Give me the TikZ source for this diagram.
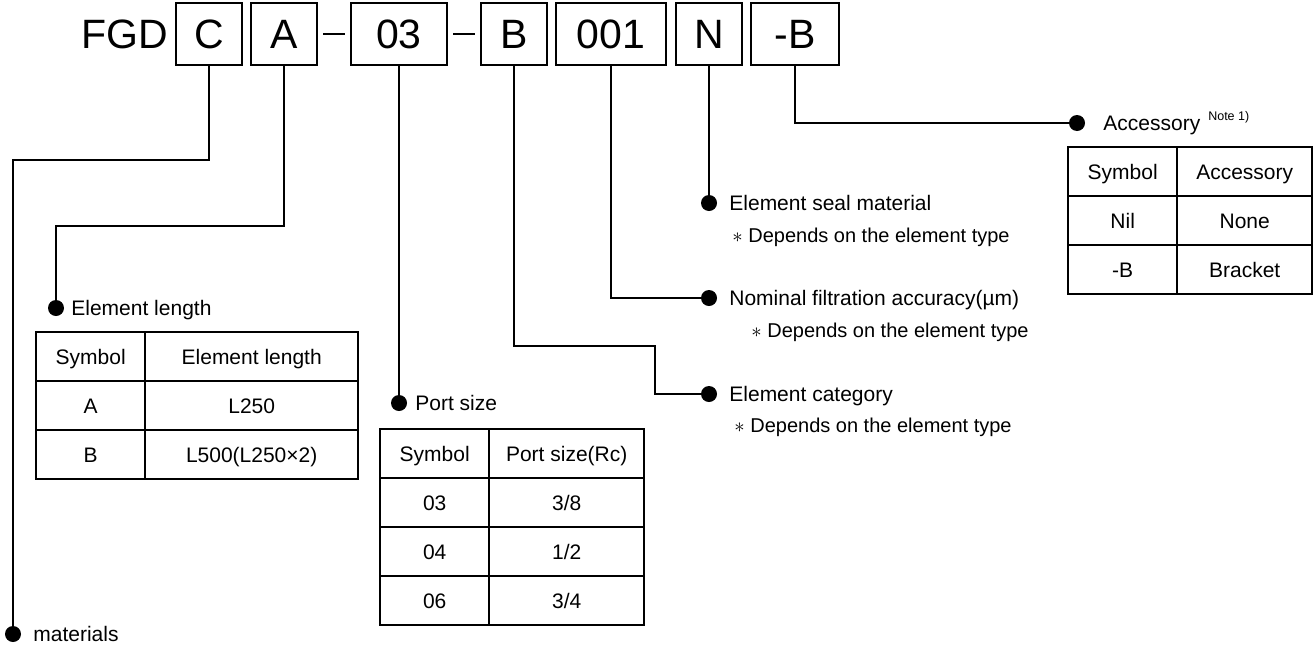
\documentclass[tikz,border=0pt]{standalone}
\usepackage{fontspec}
\setmainfont{Liberation Sans}
\usetikzlibrary{positioning,matrix}

\tikzset{
  codebox/.style={draw, line width=1.8pt, minimum height=62pt, inner sep=0pt, outer sep=0pt,
    font=\fontsize{41}{41}\selectfont},
  lead/.style={line width=1.7pt},
  dot/.style={circle, fill, inner sep=0pt, minimum size=16pt},
  lbl/.style={anchor=west, inner sep=0pt, text height=15pt, text depth=0pt,
    font=\fontsize{21}{21}\selectfont},
  note/.style={anchor=west, inner sep=0pt, text height=14pt, text depth=0pt,
    font=\fontsize{20}{20}\selectfont},
  cell/.style={draw, line width=2.4pt, minimum height=49pt, inner sep=0pt, outer sep=0pt,
    anchor=center, text height=15pt, text depth=0pt, font=\fontsize{21}{21}\selectfont},
  codetable/.style={matrix of nodes, anchor=north west, inner sep=0pt, outer sep=0pt,
    column sep=-2.4pt, row sep=-2.4pt, nodes={cell},
    column 1/.style={nodes={minimum width=109pt}}}
}

\begin{document}
\begin{tikzpicture}[x=1pt, y=-1pt]
\useasboundingbox (0,0) rectangle (1313,646);

% model code
\node[codebox, minimum width=66pt] (c) at (209,34) {C};
\node[codebox, minimum width=66pt, right=9pt of c] (a) {A};
\node[codebox, minimum width=96pt, right=34pt of a] (port) {03};
\node[codebox, minimum width=66pt, right=34pt of port] (cat) {B};
\node[codebox, minimum width=110pt, right=9pt of cat] (filt) {001};
\node[codebox, minimum width=66pt, right=10pt of filt] (seal) {N};
\node[codebox, minimum width=88pt, right=9pt of seal] (acc) {-B};
\node[anchor=base east, inner sep=0pt, font=\fontsize{41}{41}\selectfont] (fgd) at ([xshift=-8pt]c.base west) {FGD};
\draw[lead] ([xshift=6pt]a.east) -- ([xshift=-6pt]port.west);
\draw[lead] ([xshift=6pt]port.east) -- ([xshift=-6pt]cat.west);

% end points
\node[dot] (matdot) at (13,634) {};
\node[dot] (lendot) at (56,308) {};
\node[dot] (portdot) at (port.south |- 0,403) {};
\node[dot] (catdot) at (seal.south |- 0,394) {};
\node[dot] (filtdot) at (seal.south |- 0,298) {};
\node[dot] (sealdot) at (seal.south |- 0,203) {};
\node[dot] (accdot) at (1077,123) {};
\coordinate (catbend) at (655,346);

% leads
\draw[lead] (c.south) -- ++(0,95) -| (matdot);
\draw[lead] (a.south) -- ++(0,161) -| (lendot);
\draw[lead] (port.south) -- (portdot);
\draw[lead] (cat.south) |- (catbend) |- (catdot);
\draw[lead] (filt.south) |- (filtdot);
\draw[lead] (seal.south) -- (sealdot);
\draw[lead] (acc.south) |- (accdot);

% labels
\node[lbl, right=12pt of matdot] (matlbl) {materials};
\node[lbl, right=7pt of lendot] (lenlbl) {Element length};
\node[lbl, right=8pt of portdot] (portlbl) {Port size};
\node[lbl, right=12pt of catdot] (catlbl) {Element category};
\node[note] (catnote) at ([xshift=5pt,yshift=-31pt]catlbl.west) {$\ast$ Depends on the element type};
\node[lbl, right=12pt of filtdot] (filtlbl) {Nominal filtration accuracy(µm)};
\node[note] (filtnote) at ([xshift=22pt,yshift=-32pt]filtlbl.west) {$\ast$ Depends on the element type};
\node[lbl, right=12pt of sealdot] (seallbl) {Element seal material};
\node[note] (sealnote) at ([xshift=3pt,yshift=-32pt]seallbl.west) {$\ast$ Depends on the element type};
\node[lbl, right=18pt of accdot] (acclbl) {Accessory\hspace{8pt}\raisebox{10.5pt}{\fontsize{12.5}{13}\selectfont Note 1)}};

% tables
\matrix[codetable, column 2/.style={nodes={minimum width=213pt}}] (lentab) at (35,331) {
  Symbol & Element length \\
  A & L250 \\
  B & L500(L250×2) \\
};
\matrix[codetable, column 2/.style={nodes={minimum width=155pt}}] (porttab) at (379,428) {
  Symbol & Port size(Rc) \\
  03 & 3/8 \\
  04 & 1/2 \\
  06 & 3/4 \\
};
\matrix[codetable, column 2/.style={nodes={minimum width=135pt}}] (acctab) at (1067,146) {
  Symbol & Accessory \\
  Nil & None \\
  -B & Bracket \\
};
\end{tikzpicture}
\end{document}
